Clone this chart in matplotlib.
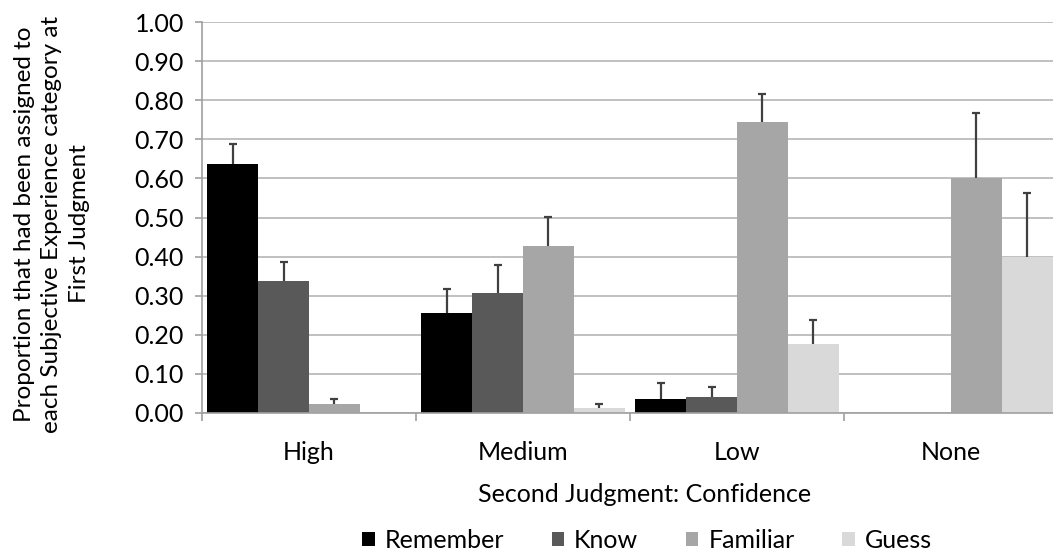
import numpy as np
import matplotlib
matplotlib.use("Agg")
import matplotlib.pyplot as plt

# ---- data ----
groups = ["High", "Medium", "Low", "None"]
series = ["Remember", "Know", "Familiar", "Guess"]

remember = [0.637, 0.255, 0.037, 0.0]
know = [0.338, 0.306, 0.042, 0.0]
familiar = [0.023, 0.428, 0.743, 0.601]
guess = [0.0, 0.012, 0.176, 0.400]

remember_err = [0.050, 0.062, 0.040, 0.0]
know_err = [0.047, 0.073, 0.025, 0.0]
familiar_err = [0.014, 0.074, 0.073, 0.165]
guess_err = [0.0, 0.010, 0.062, 0.163]

colors = ["#000000", "#595959", "#a6a6a6", "#d9d9d9"]

plt.rcParams["font.family"] = ["Lato", "DejaVu Sans"]
fs = 18

fig = plt.figure(figsize=(10.53, 5.54), dpi=100)
# plot area is cut off slightly on the right in the reference
ax = fig.add_axes([202 / 1053, 1 - 413 / 554, 856 / 1053, 391 / 554])

x = np.arange(len(groups))
width = 0.238
values = [remember, know, familiar, guess]
errors = [remember_err, know_err, familiar_err, guess_err]

for i, (name, vals, errs, c) in enumerate(zip(series, values, errors, colors)):
    pos = x + (i - 1.5) * width
    ax.bar(pos, vals, width, color=c, label=name, zorder=2)
    vals = np.array(vals)
    errs = np.array(errs)
    keep = errs > 0
    eb = ax.errorbar(pos[keep], vals[keep], yerr=[np.zeros(keep.sum()), errs[keep]],
                     fmt="none", ecolor="#404040", elinewidth=1.6, capsize=3,
                     capthick=1.6, zorder=3)
    # only the upper cap, like Excel's "plus" error bars
    eb[1][0].set_visible(False)

ax.set_xlim(-0.5, 3.5)
ax.set_ylim(0, 1.0)
ax.set_yticks(np.arange(0, 1.01, 0.1))
ax.set_yticklabels([f"{v:.2f}" for v in np.arange(0, 1.01, 0.1)])
ax.yaxis.grid(True, color="#b5b5b5", linewidth=1.2, zorder=0)
ax.set_axisbelow(True)

ax.set_xticks(np.arange(-0.5, 3.6, 1.0))
ax.set_xticklabels([])
ax.set_xticks(x, minor=True)
ax.set_xticklabels(groups, minor=True)
ax.tick_params(axis="x", which="minor", length=0, pad=20, labelsize=fs)
ax.tick_params(axis="x", which="major", length=6, color="#a0a0a0", width=1.2)
ax.tick_params(axis="y", length=5, color="#a0a0a0", width=1.2, pad=8, labelsize=fs)

for side in ["top", "right"]:
    ax.spines[side].set_visible(False)
for side in ["left", "bottom"]:
    ax.spines[side].set_color("#a0a0a0")
    ax.spines[side].set_linewidth(1.2)

fig.text(52 / 1053, 1 - 224 / 554,
         "Proportion that had been assigned to\neach Subjective Experience category at\nFirst Judgment",
         fontsize=fs - 0.5, rotation=90, ha="center", va="center", linespacing=1.4,
         multialignment="center")

fig.text(645 / 1053, 1 - 494 / 554, "Second Judgment: Confidence", fontsize=fs,
         ha="center", va="center")

fig.legend(loc="center", bbox_to_anchor=(647 / 1053, 1 - 540 / 554), ncol=4,
           frameon=False, fontsize=fs, handlelength=0.5, handleheight=0.5,
           handletextpad=0.4, columnspacing=1.9, borderaxespad=0)

fig.savefig("out.png", dpi=100)
